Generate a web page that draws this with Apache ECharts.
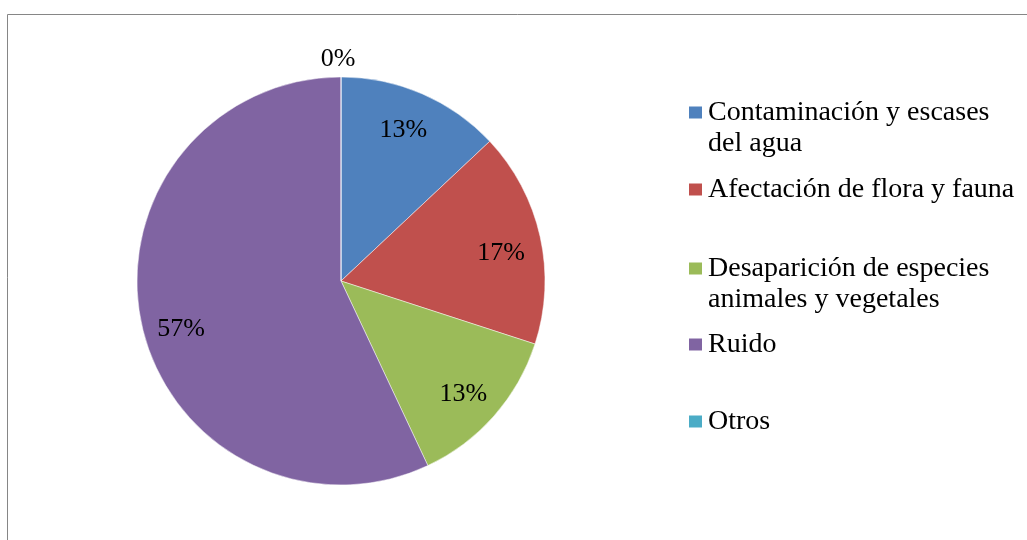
<!DOCTYPE html>
<html>
<head>
<meta charset="utf-8">
<script src="https://cdn.jsdelivr.net/npm/echarts@6/dist/echarts.min.js"></script>
<style>
html,body{margin:0;padding:0;background:#fff;}
#chart{width:1027px;height:540px;}
</style>
</head>
<body>
<div id="chart"></div>
<script>
// Data
const categories = ['Contaminación y escases del agua', 'Afectación de flora y fauna', 'Desaparición de especies animales y vegetales', 'Ruido', 'Otros'];
const legendLines = [['Contaminación y escases', 'del agua'], ['Afectación de flora y fauna'], ['Desaparición de especies', 'animales y vegetales'], ['Ruido'], ['Otros']];
const percentValues = [13, 17, 13, 57, 0];
const colors = ['#4F81BD', '#C0504D', '#9BBB59', '#8064A2', '#4BACC6'];

// Layout (label nudges, legend positions)
const labelOffsets = [[-4, 2], [-3, 9], [-3, 3], [3, 12], [-3, 5]];
const legendTops = [97, 174, 253, 329, 406];

const FONT = '"Liberation Serif", "Times New Roman", serif';
const center = [341, 281];
const R = 204;

const chart = echarts.init(document.getElementById('chart'));

const mainData = categories.map((c, i) => ({ name: c, value: percentValues[i], itemStyle: { color: colors[i] } }));
const innerLabelData = categories.map((c, i) => ({
  name: c, value: percentValues[i],
  label: { show: percentValues[i] > 0, offset: labelOffsets[i] }
}));
const outerLabelData = categories.map((c, i) => ({
  name: c, value: percentValues[i],
  label: { show: percentValues[i] === 0, offset: labelOffsets[i] }
}));

const labelStyle = {
  position: 'inside',
  color: '#000',
  fontFamily: FONT,
  fontSize: 26,
  formatter: p => p.value + '%'
};

const legends = categories.map((c, i) => ({
  data: [c],
  left: 684,
  top: legendTops[i],
  orient: 'vertical',
  icon: 'none',
  itemWidth: 0,
  itemHeight: 0,
  padding: 0,
  selectedMode: false,
  formatter: function () {
    const lines = legendLines[i];
    let s = '{sq|}{g|}{t|' + lines[0] + '}';
    for (let k = 1; k < lines.length; k++) s += '\n{sp|}{t|' + lines[k] + '}';
    return s;
  },
  textStyle: {
    fontFamily: FONT, fontSize: 28, color: '#000', lineHeight: 31,
    rich: {
      sq: { width: 13, height: 12, backgroundColor: colors[i], lineHeight: 31 },
      g: { width: 6, lineHeight: 31 },
      sp: { width: 19, lineHeight: 31 },
      t: { fontFamily: FONT, fontSize: 28, color: '#000', lineHeight: 31 }
    }
  }
}));

chart.setOption({
  animation: false,
  backgroundColor: '#fff',
  graphic: [{
    type: 'rect',
    shape: { x: 7.5, y: 14.5, width: 1040, height: 560 },
    style: { fill: 'none', stroke: '#868686', lineWidth: 1 },
    silent: true
  }],
  legend: legends,
  series: [
    {
      type: 'pie',
      center: center,
      radius: [0, R],
      startAngle: 90,
      clockwise: true,
      label: { show: false },
      labelLine: { show: false },
      itemStyle: { borderColor: 'rgba(255,255,255,0.6)', borderWidth: 0.8 },
      emphasis: { disabled: true },
      data: mainData
    },
    {
      type: 'pie',
      center: center,
      radius: [124, R],
      startAngle: 90,
      clockwise: true,
      silent: true,
      itemStyle: { color: 'rgba(0,0,0,0)' },
      label: labelStyle,
      labelLine: { show: false },
      emphasis: { disabled: true },
      data: innerLabelData
    },
    {
      type: 'pie',
      center: center,
      radius: [R, 244],
      startAngle: 90,
      clockwise: true,
      silent: true,
      itemStyle: { color: 'rgba(0,0,0,0)' },
      label: labelStyle,
      labelLine: { show: false },
      emphasis: { disabled: true },
      data: outerLabelData
    }
  ]
});
</script>
</body>
</html>
